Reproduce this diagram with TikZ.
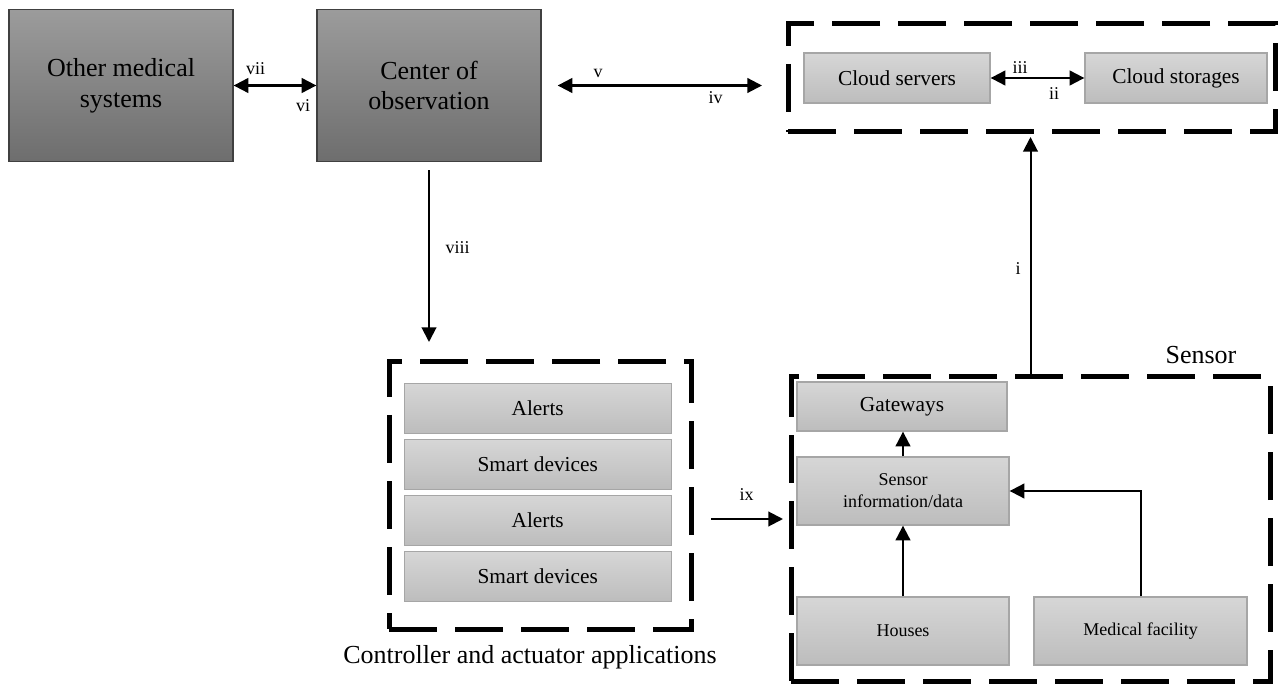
\documentclass[tikz,border=0pt]{standalone}
\usepackage{fontspec}
\setmainfont{Liberation Serif}
\usetikzlibrary{arrows.meta}
\tikzstyle{arrow} = [line width=1.5pt,-{Triangle[length=11pt,width=11pt]}]
\tikzstyle{twoway} = [line width=1.6pt,{Triangle[length=11pt,width=11pt]}-{Triangle[length=11pt,width=11pt]}]

\begin{document}
\begin{tikzpicture}
        [
            x=0.75pt, y=-0.75pt,
            darkbox/.style={rectangle,draw=black!75,line width=1pt,top color=black!39,bottom color=black!57,minimum width=168pt,minimum height=114pt,align=center,font=\fontsize{19.5}{23}\selectfont},
            lightbox/.style={rectangle,draw=black!35,line width=1pt,top color=black!16,bottom color=black!26,inner sep=0pt,align=center,font=\fontsize{16}{19}\selectfont},
            smalltext/.style={font=\fontsize{13.5}{16.5}\selectfont},
            dashbox/.style={rectangle,draw=black,line width=3.75pt,dash pattern=on 36pt off 13.5pt,outer sep=0pt},
            numeral/.style={anchor=base,inner sep=0pt,font=\fontsize{13.5}{16}\selectfont},
            title/.style={anchor=base,inner sep=0pt,font=\fontsize{19.5}{23}\selectfont},
        ]
    \useasboundingbox (0,0) rectangle (1279,684);

    \node [darkbox] (other) at (121,85.5) {Other medical\\systems};
    \node [darkbox] (observ) at (429,85.5) {Center of\\observation};

    \node [dashbox,minimum width=365.25pt,minimum height=81pt] (cloud) at (1031.5,78) {};
    \node [lightbox,minimum width=139.5pt,minimum height=37.5pt] (servers) at (897,78) {Cloud servers};
    \node [lightbox,minimum width=136.5pt,minimum height=37.5pt] (storages) at (1176,78) {Cloud storages};

    \node [dashbox,minimum width=226.5pt,minimum height=200.25pt] (ctrl) at (540,495.5) {};
    \foreach \y/\t/\n in {408.3/Alerts/alerta,464.3/Smart devices/smarta,520.3/Alerts/alertb,576.5/Smart devices/smartb}
        \node [lightbox,minimum width=200.25pt,minimum height=37.5pt] (\n) at (537.7,\y) {\t};
    \node [title] (ctrltitle) at (530,663.3) {Controller and actuator applications};

    \node [dashbox,minimum width=359.25pt,minimum height=228pt] (sensor) at (1030.5,529) {};
    \node [title] (sensortitle) at (1201,364) {Sensor};
    \node [lightbox,minimum width=157.5pt,minimum height=36.75pt] (gateways) at (902,406.5) {Gateways};
    \node [lightbox,smalltext,minimum width=159pt,minimum height=51pt] (sensdata) at (903,491) {Sensor\\information/data};
    \node [lightbox,smalltext,minimum width=159pt,minimum height=51pt] (houses) at (903,631) {Houses};
    \node [lightbox,smalltext,minimum width=159.75pt,minimum height=51pt] (medical) at (1140.5,631) {Medical facility};

    \coordinate (ixfrom) at (711,519);
    \coordinate (ixto) at (783,519);

    \draw [twoway] (other) -- (observ);
    \draw [twoway] ([xshift=12pt]observ.east) -- ([xshift=-19.5pt]cloud.west |- observ.east);
    \draw [twoway] (servers) -- (storages);
    \draw [arrow] (sensor.north) -- ([yshift=-3.75pt]sensor.north |- cloud.south);
    \draw [arrow] ([yshift=-6pt]observ.south) -- ([yshift=15pt]observ.south |- ctrl.north);
    \draw [arrow] (ixfrom) -- (ixto);
    \draw [arrow] (sensdata.north) -- (sensdata.north |- gateways.south);
    \draw [arrow] (houses) -- (sensdata);
    \draw [arrow] (medical.north) |- (sensdata.east);

    \node [numeral] (lvii) at (255.7,75) {vii};
    \node [numeral] (lvi) at (303,111.7) {vi};
    \node [numeral] (lv) at (598,78) {v};
    \node [numeral] (liv) at (715.5,104) {iv};
    \node [numeral] (liii) at (1020,74) {iii};
    \node [numeral] (lii) at (1054,100) {ii};
    \node [numeral] (li) at (1018,275) {i};
    \node [numeral] (lviii) at (457.7,254) {viii};
    \node [numeral] (lix) at (746.7,500.7) {ix};
\end{tikzpicture}
\end{document}
